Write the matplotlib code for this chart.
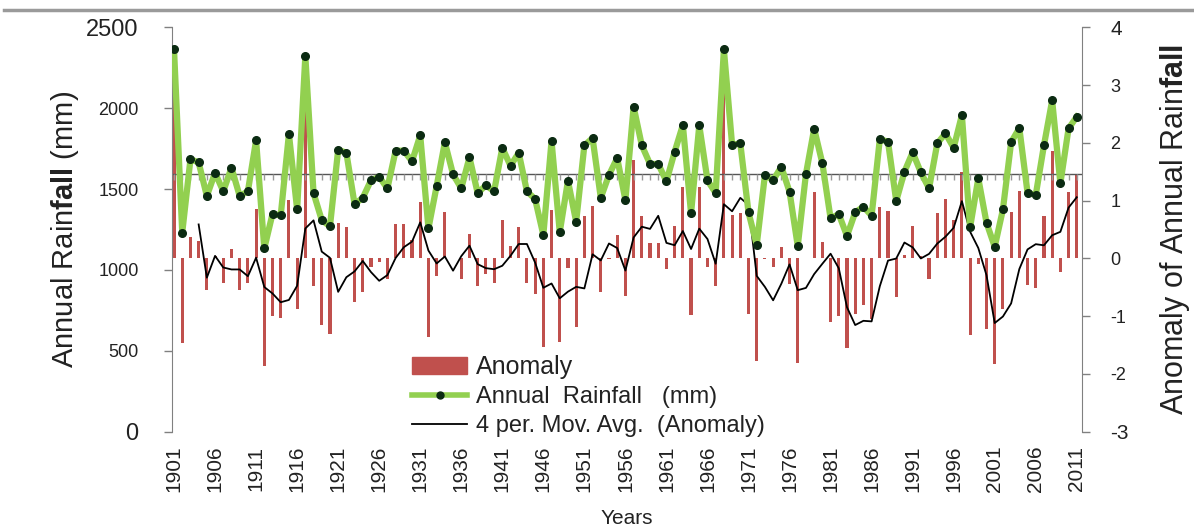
import numpy as np
import pandas as pd
import matplotlib
matplotlib.use("Agg")
import matplotlib.pyplot as plt
from matplotlib.lines import Line2D
from matplotlib.patches import Patch

plt.rcParams["font.family"] = ["Liberation Sans", "DejaVu Sans"]
plt.rcParams["mathtext.fontset"] = "custom"
plt.rcParams["mathtext.rm"] = "Liberation Sans"
plt.rcParams["mathtext.bf"] = "Liberation Sans:bold"
plt.rcParams["axes.unicode_minus"] = False

years = np.arange(1901, 2012)
rainfall = [
    2363, 1230, 1684, 1665, 1457, 1601, 1486, 1632, 1457, 1486,
    1801, 1133, 1347, 1337, 1840, 1374, 2322, 1475, 1308, 1269,
    1743, 1724, 1407, 1446, 1554, 1576, 1504, 1737, 1737, 1671,
    1832, 1257, 1518, 1789, 1591, 1504, 1696, 1475, 1523, 1486,
    1755, 1644, 1724, 1486, 1438, 1216, 1797, 1234, 1551, 1298,
    1770, 1815, 1446, 1587, 1692, 1432, 2009, 1770, 1655, 1655,
    1548, 1730, 1896, 1350, 1894, 1554, 1475, 2363, 1774, 1782,
    1356, 1154, 1587, 1554, 1638, 1483, 1148, 1593, 1873, 1659,
    1319, 1345, 1210, 1356, 1391, 1335, 1809, 1792, 1426, 1607,
    1727, 1603, 1504, 1782, 1844, 1755, 1957, 1263, 1566, 1292,
    1143, 1374, 1789, 1877, 1477, 1463, 1770, 2048, 1535, 1875,
    1947,
]
year_ticks = list(range(1901, 2012, 5))
left_ticks = [0, 500, 1000, 1500, 2000, 2500]
right_ticks = [-3, -2, -1, 0, 1, 2, 3, 4]

rain = pd.Series(rainfall, index=years, dtype=float)
mean_rain = rain.mean()
anomaly = (rain - mean_rain) / rain.std()
mov_avg = anomaly.rolling(4).mean()

bar_red = "#c0504d"
green = "#92d050"
dot = "#0b2b12"
spine_grey = "#808080"
text_col = "#222222"

fig = plt.figure(figsize=(11.94, 5.32), dpi=100)
ax = fig.add_axes([0.1441, 0.1885, 0.7624, 0.7602])
ax2 = ax.twinx()
ax.set_zorder(ax2.get_zorder() + 1)
ax.patch.set_visible(False)

# anomaly bars and moving average on the right axis
ax2.bar(years, anomaly.values, width=0.38, color=bar_red, zorder=2)
ax2.plot(years, mov_avg.values, color="black", lw=1.3, zorder=3)
ax2.set_ylim(-3, 4)
ax2.set_yticks(right_ticks)

# rainfall and its mean on the left axis
ax.axhline(mean_rain, color="#555555", lw=1, zorder=1)
ax.plot(years, np.full(len(years), mean_rain - 14), ls="none", marker="|",
        ms=4, mew=1, color="#9a9a9a", zorder=1)
ax.plot(years, rain.values, color=green, lw=4.5, marker="o", ms=5.5,
        mfc=dot, mec=dot, zorder=3)
ax.set_ylim(0, 2500)
ax.set_yticks(left_ticks)
ax.set_xlim(1900.76, 2011.68)
ax.set_xticks(year_ticks)
ax.set_xticklabels([str(y) for y in year_ticks], rotation=90)

for a in (ax, ax2):
    for side in ("top", "bottom"):
        a.spines[side].set_visible(False)
ax.spines["right"].set_visible(False)
ax2.spines["left"].set_visible(False)
ax.spines["left"].set_color(spine_grey)
ax2.spines["right"].set_color(spine_grey)

ax.tick_params(axis="y", direction="out", length=6, width=1, color=spine_grey,
               pad=18, labelsize=13, labelcolor=text_col)
ax2.tick_params(axis="y", direction="out", length=6, width=1, color=spine_grey,
                pad=14, labelsize=13, labelcolor=text_col)
ax.tick_params(axis="x", length=0, pad=10, labelsize=15, labelcolor=text_col)

# top and bottom labels of each axis are drawn larger
ylabels = ax.get_yticklabels()
ylabels[0].set_fontsize(17)
ylabels[-1].set_fontsize(17)
rlabels = ax2.get_yticklabels()
rlabels[0].set_fontsize(15)
rlabels[-1].set_fontsize(15)

ax.set_ylabel(r"Annual Rain$\mathbf{fall}$ (mm)", fontsize=21, color=text_col,
              labelpad=4)
ax2.set_ylabel(r"Anomaly of Annual Rain$\mathbf{fall}$", fontsize=22,
               color=text_col, rotation=90)
ax2.yaxis.set_label_coords(1.083, 0.5)
ax.set_xlabel("Years", fontsize=15, color=text_col, labelpad=12)

handles = [
    Patch(color=bar_red),
    Line2D([], [], color=green, lw=4, marker="o", ms=5, mfc=dot, mec=dot),
    Line2D([], [], color="black", lw=1.3),
]
labels = ["Anomaly", "Annual  Rainfall   (mm)", "4 per. Mov. Avg.  (Anomaly)"]
leg = ax.legend(handles, labels, loc="upper left", bbox_to_anchor=(0.264, 0.19),
                frameon=False, fontsize=17, handlelength=2.3, handletextpad=0.4,
                labelspacing=0.3, borderpad=0, borderaxespad=0)
leg.get_texts()[0].set_fontsize(18)
for t in leg.get_texts():
    t.set_color(text_col)

fig.add_artist(Line2D([0.003, 1.0], [1 - 10 / 532] * 2, transform=fig.transFigure,
                      color="#9a9a9a", lw=2.5))

fig.savefig("out.png", dpi=100)
